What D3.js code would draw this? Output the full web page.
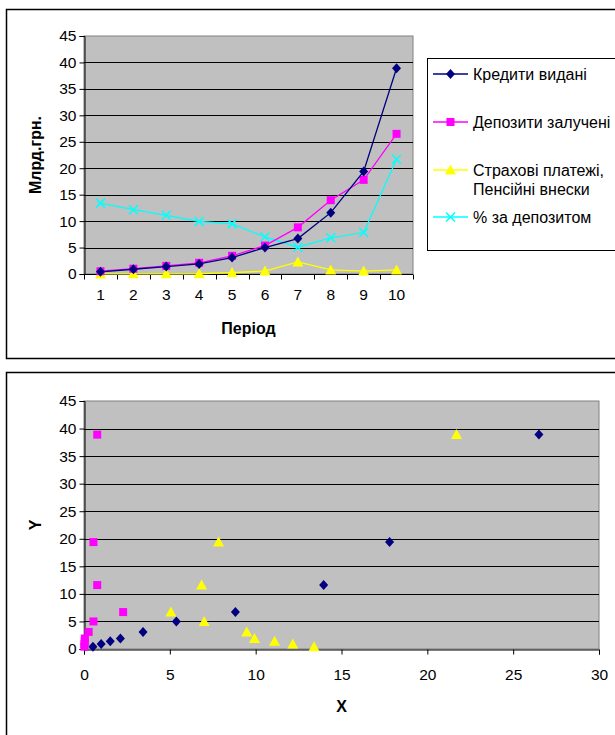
<!DOCTYPE html>
<html>
<head>
<meta charset="utf-8">
<script src="https://cdn.jsdelivr.net/npm/d3@7"></script>
<style>
  body { margin: 0; background: #fff; }
  text { font-family: "Liberation Sans", Arial, sans-serif; }
</style>
</head>
<body>
<script>
// Data
var periods = [1, 2, 3, 4, 5, 6, 7, 8, 9, 10];
var credits = [0.42, 0.9, 1.4, 1.9, 3.1, 5.0, 6.7, 11.6, 19.4, 38.9];
var deposits = [0.52, 1.0, 1.53, 2.12, 3.44, 5.38, 8.82, 13.96, 17.8, 26.5];
var insurance = [0.02, 0.03, 0.04, 0.05, 0.27, 0.55, 2.28, 0.77, 0.55, 0.77];
var depositRate = [13.4, 12.16, 11.1, 9.93, 9.48, 7.0, 5.06, 6.85, 7.84, 21.7];
var yTicks = [0, 5, 10, 15, 20, 25, 30, 35, 40, 45];
var xTicks = [0, 5, 10, 15, 20, 25, 30];
var seriesNames = ["Кредити видані", "Депозити залучені", ["Страхові платежі,", "Пенсійні внески"], "% за депозитом"];

var fontSize = 15.5;

var svg = d3.select("body").append("svg")
    .attr("width", 615)
    .attr("height", 735);

// Outer chart frames (extend past right edge like the original)
svg.append("rect").attr("x", 6.5).attr("y", 9.5).attr("width", 640).attr("height", 349)
    .attr("fill", "#fff").attr("stroke", "#000").attr("stroke-width", 1.5);
svg.append("rect").attr("x", 6.5).attr("y", 372.5).attr("width", 640).attr("height", 400)
    .attr("fill", "#fff").attr("stroke", "#000").attr("stroke-width", 1.5);

// marker drawing helper
function marker(g, type, x, y) {
    if (type === "diamond") {
        g.append("path").attr("d", "M" + x + "," + (y - 5) + "L" + (x + 4.5) + "," + y + "L" + x + "," + (y + 5) + "L" + (x - 4.5) + "," + y + "Z")
            .attr("fill", "#000080");
    } else if (type === "square") {
        g.append("rect").attr("x", x - 4).attr("y", y - 4).attr("width", 8).attr("height", 8)
            .attr("fill", "#ff00ff");
    } else if (type === "triangle") {
        g.append("path").attr("d", "M" + x + "," + (y - 5.5) + "L" + (x + 5.5) + "," + (y + 4.5) + "L" + (x - 5.5) + "," + (y + 4.5) + "Z")
            .attr("fill", "#ffff00");
    } else if (type === "cross") {
        g.append("path").attr("d", "M" + (x - 4.5) + "," + (y - 4.5) + "L" + (x + 4.5) + "," + (y + 4.5) + "M" + (x - 4.5) + "," + (y + 4.5) + "L" + (x + 4.5) + "," + (y - 4.5))
            .attr("stroke", "#00ffff").attr("stroke-width", 1.5).attr("fill", "none");
    }
}

function plotFrame(left, right, top, bottom, y) {
    svg.append("rect").attr("x", left).attr("y", top)
        .attr("width", right - left).attr("height", bottom - top)
        .attr("fill", "#c0c0c0").attr("stroke", "#808080").attr("stroke-width", 1);
    // gridlines
    svg.append("g").selectAll("line").data(yTicks.slice(1, -1)).enter().append("line")
        .attr("x1", left).attr("x2", right)
        .attr("y1", function(d) { return Math.round(y(d)) + 0.5; })
        .attr("y2", function(d) { return Math.round(y(d)) + 0.5; })
        .attr("stroke", "#000").attr("stroke-width", 1);
    // y axis
    var yAxis = d3.axisLeft(y).tickValues(yTicks).tickSize(5).tickPadding(3);
    var gy = svg.append("g").attr("transform", "translate(" + (left + 0.5) + ",0)").call(yAxis);
    gy.select(".domain").attr("stroke", "#000");
    gy.selectAll("text").attr("font-size", fontSize).attr("font-family", "Liberation Sans, Arial").attr("fill", "#000");
}

// ---------- Top chart ----------
var top1 = {left: 84, right: 413, top: 36, bottom: 274};
var y1 = d3.scaleLinear().domain([0, 45]).range([top1.bottom, top1.top]);
var x1 = d3.scaleBand().domain(periods).range([top1.left, top1.right]);

plotFrame(top1.left, top1.right, top1.top, top1.bottom, y1);

// x axis: ticks between categories
var gx1 = svg.append("g").attr("transform", "translate(0," + (top1.bottom + 0.5) + ")");
gx1.append("line").attr("x1", top1.left).attr("x2", top1.right).attr("stroke", "#000");
var bounds = periods.map(function(p) { return x1(p); }).concat([top1.right]);
gx1.selectAll("line.tick").data(bounds).enter().append("line")
    .attr("class", "tick")
    .attr("x1", function(d) { return Math.round(d) + 0.5; })
    .attr("x2", function(d) { return Math.round(d) + 0.5; })
    .attr("y1", 0).attr("y2", 5).attr("stroke", "#000");
gx1.selectAll("text").data(periods).enter().append("text")
    .attr("x", function(d) { return x1(d) + x1.bandwidth() / 2; })
    .attr("y", 25)
    .attr("text-anchor", "middle")
    .attr("font-size", fontSize)
    .text(function(d) { return d; });

var cx = function(i) { return x1(periods[i]) + x1.bandwidth() / 2; };
var series = [
    {values: credits, color: "#000080", marker: "diamond"},
    {values: deposits, color: "#ff00ff", marker: "square"},
    {values: insurance, color: "#ffff00", marker: "triangle"},
    {values: depositRate, color: "#00ffff", marker: "cross"}
];
var lineGen = d3.line()
    .x(function(d, i) { return cx(i); })
    .y(function(d) { return y1(d); });

// draw in order so navy sits on top like Excel
[3, 2, 1, 0].forEach(function(k) {
    var s = series[k];
    var g = svg.append("g");
    g.append("path").attr("d", lineGen(s.values))
        .attr("fill", "none").attr("stroke", s.color).attr("stroke-width", 1.3);
    s.values.forEach(function(v, i) { marker(g, s.marker, cx(i), y1(v)); });
});

svg.append("text")
    .attr("x", (top1.left + top1.right) / 2).attr("y", 334)
    .attr("text-anchor", "middle").attr("font-size", 16).attr("font-weight", "bold")
    .text("Період");
svg.append("text")
    .attr("transform", "translate(41," + ((top1.top + top1.bottom) / 2) + ") rotate(-90)")
    .attr("text-anchor", "middle").attr("font-size", 16).attr("font-weight", "bold")
    .text("Млрд.грн.");

// legend
var legend = svg.append("g");
legend.append("rect").attr("x", 427.5).attr("y", 58.5).attr("width", 220).attr("height", 192)
    .attr("fill", "#fff").attr("stroke", "#000").attr("stroke-width", 1);
var legendRows = [74, 122, 170, 217];
series.forEach(function(s, k) {
    var ly = legendRows[k];
    legend.append("line").attr("x1", 433).attr("x2", 468).attr("y1", ly).attr("y2", ly)
        .attr("stroke", s.color).attr("stroke-width", 1.3);
    marker(legend, s.marker, 450.5, ly);
    var names = [].concat(seriesNames[k]);
    names.forEach(function(n, j) {
        legend.append("text").attr("x", 473).attr("y", ly + 5.5 + j * 19)
            .attr("font-size", 16).text(n);
    });
});

// ---------- Bottom chart ----------
var bot = {left: 84, right: 599, top: 401, bottom: 649};
var y2 = d3.scaleLinear().domain([0, 45]).range([bot.bottom, bot.top]);
var x2 = d3.scaleLinear().domain([0, 30]).range([bot.left, bot.right]);

plotFrame(bot.left, bot.right, bot.top, bot.bottom, y2);

var xAxis2 = d3.axisBottom(x2).tickValues(xTicks).tickSize(5).tickPadding(14);
var gx2 = svg.append("g").attr("transform", "translate(0," + (bot.bottom + 0.5) + ")").call(xAxis2);
gx2.select(".domain").attr("stroke", "#000");
gx2.selectAll("text").attr("font-size", fontSize).attr("font-family", "Liberation Sans, Arial").attr("fill", "#000");

var scatter = svg.append("g");
// Y = credits; X = deposits, deposit rate, insurance
deposits.forEach(function(v, i) { marker(scatter, "diamond", x2(v), y2(credits[i])); });
depositRate.forEach(function(v, i) { marker(scatter, "triangle", x2(v), y2(credits[i])); });
insurance.forEach(function(v, i) { marker(scatter, "square", x2(v), y2(credits[i])); });

svg.append("text")
    .attr("x", (bot.left + bot.right) / 2).attr("y", 712)
    .attr("text-anchor", "middle").attr("font-size", 16).attr("font-weight", "bold")
    .text("X");
svg.append("text")
    .attr("transform", "translate(41," + ((bot.top + bot.bottom) / 2) + ") rotate(-90)")
    .attr("text-anchor", "middle").attr("font-size", 16).attr("font-weight", "bold")
    .text("Y");
</script>
</body>
</html>
